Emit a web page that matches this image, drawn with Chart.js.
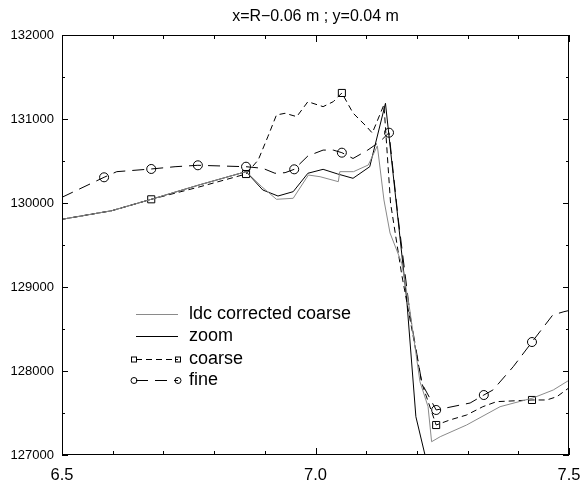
<!DOCTYPE html>
<html>
<head>
<meta charset="utf-8">
<script src="https://cdn.jsdelivr.net/npm/chart.js@4.4.1/dist/chart.umd.min.js"></script>
<style>
  html, body { margin: 0; padding: 0; background: #fff; }
  canvas { display: block; }
</style>
</head>
<body>
<canvas id="c" width="582" height="485"></canvas>
<script>
/* ===== DATA ===== */
const TITLE = 'x=R\u22120.06 m ; y=0.04 m';
const X_TICKS = [6.5, 7.0, 7.5];
const Y_TICKS = [127000, 128000, 129000, 130000, 131000, 132000];

const LDC_X = [6.5, 6.598, 6.676, 6.77, 6.863, 6.894, 6.923, 6.956, 6.986, 7.009, 7.045, 7.048, 7.075, 7.104, 7.122, 7.135, 7.147, 7.17, 7.186, 7.206, 7.222, 7.229, 7.246, 7.298, 7.364, 7.429, 7.469, 7.5];
const LDC_Y = [129806, 129908, 130044, 130214, 130373, 130194, 130044, 130056, 130333, 130313, 130254, 130373, 130373, 130452, 130680, 130036, 129643, 129286, 128726, 127873, 127575, 127158, 127218, 127357, 127575, 127679, 127774, 127890];

const ZOOM_X = [6.5, 6.598, 6.676, 6.77, 6.863, 6.896, 6.926, 6.956, 6.985, 7.015, 7.044, 7.074, 7.107, 7.138, 7.18, 7.198, 7.216, 7.222];
const ZOOM_Y = [129806, 129908, 130044, 130214, 130373, 130155, 130083, 130135, 130354, 130401, 130345, 130294, 130432, 131187, 128845, 127456, 127000, 126900];

const COARSE_X = [6.5, 6.598, 6.676, 6.77, 6.863, 6.887, 6.906, 6.923, 6.94, 6.963, 6.985, 7.015, 7.035, 7.052, 7.074, 7.101, 7.112, 7.135, 7.148, 7.17, 7.19, 7.21, 7.238, 7.265, 7.298, 7.33, 7.357, 7.427, 7.456, 7.476, 7.5];
const COARSE_Y = [129806, 129908, 130044, 130190, 130345, 130512, 130789, 131048, 131068, 131028, 131206, 131147, 131206, 131310, 131071, 130908, 130833, 131170, 130000, 129150, 128500, 127850, 127357, 127417, 127476, 127575, 127635, 127655, 127655, 127694, 127800];
const COARSE_MARKED = [6.676, 6.863, 7.052, 7.238, 7.427];

const FINE_X = [6.5, 6.583, 6.608, 6.676, 6.723, 6.768, 6.863, 6.896, 6.92, 6.94, 6.958, 6.985, 7.015, 7.035, 7.052, 7.074, 7.103, 7.127, 7.145, 7.163, 7.187, 7.21, 7.238, 7.305, 7.332, 7.35, 7.39, 7.427, 7.468, 7.49, 7.5];
const FINE_Y = [130068, 130306, 130373, 130405, 130432, 130449, 130432, 130413, 130354, 130361, 130401, 130560, 130630, 130630, 130599, 130530, 130630, 130730, 130837, 129820, 128650, 127850, 127536, 127619, 127714, 127774, 128051, 128345, 128667, 128706, 128720];
const FINE_MARKED = [6.583, 6.676, 6.768, 6.863, 6.958, 7.052, 7.145, 7.238, 7.332, 7.427];

/* ===== HELPERS ===== */
const FONT = '"Liberation Sans", Arial, Helvetica, sans-serif';
const GRAY = '#8a8a8a';
const pts = (xs, ys) => xs.map((x, i) => ({x, y: ys[i]}));
const markAt = (xs, marked, r) => ctx => marked.includes(xs[ctx.dataIndex]) ? r : 0;

// frame, inward ticks, title and the in-plot legend
const decor = {
  id: 'decor',
  afterDraw(chart) {
    const {ctx, chartArea: a, scales: {x, y}} = chart;
    ctx.save();
    ctx.strokeStyle = '#000';
    ctx.lineWidth = 1;
    ctx.strokeRect(a.left + 0.5, a.top + 0.5, a.right - a.left - 1, a.bottom - a.top - 1);
    ctx.beginPath();
    for (let k = 0; k <= 10; k++) {
      const px = Math.round(x.getPixelForValue(6.5 + k * 0.1)) + 0.5;
      const len = k % 5 === 0 ? 7 : 4;
      ctx.moveTo(px, a.bottom); ctx.lineTo(px, a.bottom - len);
      ctx.moveTo(px, a.top); ctx.lineTo(px, a.top + len);
    }
    for (let k = 0; k <= 10; k++) {
      const py = Math.round(y.getPixelForValue(127000 + k * 500)) + 0.5;
      const len = k % 2 === 0 ? 6 : 3;
      ctx.moveTo(a.left, py); ctx.lineTo(a.left + len, py);
      ctx.moveTo(a.right, py); ctx.lineTo(a.right - len, py);
    }
    ctx.stroke();

    ctx.fillStyle = '#000';
    ctx.font = '16px ' + FONT;
    ctx.textAlign = 'center';
    ctx.textBaseline = 'middle';
    ctx.fillText(TITLE, (a.left + a.right) / 2, 17);

    // legend
    const x0 = 136, x1 = 178, tx = 189;
    const rows = [314, 336, 359, 380];
    ctx.font = '18px ' + FONT;
    ctx.textAlign = 'left';
    chart.data.datasets.forEach((ds, i) => {
      const yy = rows[i] + 0.5;
      ctx.save();
      ctx.strokeStyle = ds.borderColor;
      ctx.lineWidth = 1;
      ctx.setLineDash(ds.borderDash || []);
      ctx.beginPath(); ctx.moveTo(x0, yy); ctx.lineTo(x1, yy); ctx.stroke();
      ctx.setLineDash([]);
      if (ds.pointStyle === 'rect') {
        [x0 - 2, x1].forEach(px => ctx.strokeRect(px - 2.5, yy - 2.5, 5, 5));
      } else if (ds.pointStyle === 'circle') {
        [x0 - 2, x1].forEach(px => { ctx.beginPath(); ctx.arc(px, yy, 3, 0, Math.PI * 2); ctx.stroke(); });
      }
      ctx.restore();
      ctx.fillText(ds.label, tx, rows[i]);
    });
    ctx.restore();
  }
};

/* ===== CHART ===== */
new Chart(document.getElementById('c'), {
  type: 'line',
  data: {
    datasets: [
      {label: 'ldc corrected coarse', data: pts(LDC_X, LDC_Y), borderColor: GRAY, borderWidth: 1, pointRadius: 0},
      {label: 'zoom', data: pts(ZOOM_X, ZOOM_Y), borderColor: '#000', borderWidth: 1, pointRadius: 0},
      {label: 'coarse', data: pts(COARSE_X, COARSE_Y), borderColor: '#000', borderWidth: 1, borderDash: [6, 4],
       pointStyle: 'rect', pointRadius: markAt(COARSE_X, COARSE_MARKED, 5), pointBorderColor: '#000',
       pointBackgroundColor: 'rgba(0,0,0,0)', pointBorderWidth: 1},
      {label: 'fine', data: pts(FINE_X, FINE_Y), borderColor: '#000', borderWidth: 1, borderDash: [12, 7],
       pointStyle: 'circle', pointRadius: markAt(FINE_X, FINE_MARKED, 4.5), pointBorderColor: '#000',
       pointBackgroundColor: 'rgba(0,0,0,0)', pointBorderWidth: 1}
    ]
  },
  options: {
    responsive: false,
    animation: false,
    devicePixelRatio: 1,
    layout: {padding: {top: 35, right: 13, left: 0, bottom: 0}},
    plugins: {legend: {display: false}, tooltip: {enabled: false}, title: {display: false}},
    scales: {
      x: {
        type: 'linear', min: 6.5, max: 7.5,
        afterBuildTicks: s => { s.ticks = X_TICKS.map(v => ({value: v})); },
        afterFit: s => { s.height = 30; s.paddingLeft = 0; s.paddingRight = 0; },
        ticks: {callback: v => v.toFixed(1), color: '#000', font: {family: FONT, size: 16.5}, padding: 11, maxRotation: 0},
        grid: {display: false, drawTicks: false},
        border: {display: false}
      },
      y: {
        type: 'linear', min: 127000, max: 132000,
        afterBuildTicks: s => { s.ticks = Y_TICKS.map(v => ({value: v})); },
        afterFit: s => { s.width = 62; s.paddingTop = 0; s.paddingBottom = 0; },
        ticks: {callback: v => String(v), color: '#000', font: {family: FONT, size: 13}, padding: 8},
        grid: {display: false, drawTicks: false},
        border: {display: false}
      }
    }
  },
  plugins: [decor]
});
</script>
</body>
</html>
